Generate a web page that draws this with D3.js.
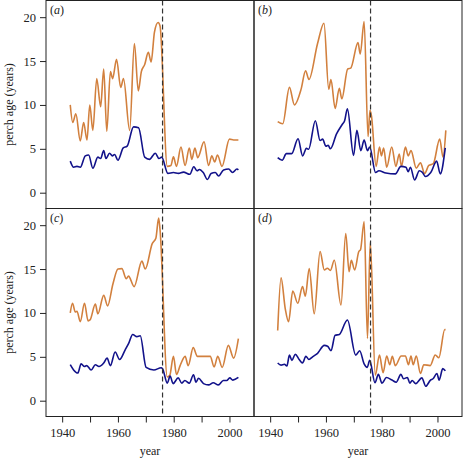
<!DOCTYPE html>
<html><head><meta charset="utf-8">
<script src="https://cdn.jsdelivr.net/npm/d3@7"></script>
<style>body{margin:0;background:#fff}svg{display:block}text{font-family:"Liberation Serif","Times New Roman",serif;fill:#222}</style>
</head><body><svg id="c" width="463" height="460"></svg>
<script>
// ---- data (years at read-off turning points, values in years of age) ----
const aOrangeYears=[1942.9,1943.8,1944.9,1946.5,1947.7,1948.9,1949.9,1951.0,1952.4,1953.8,1954.9,1956.0,1957.3,1958.1,1959.5,1961.0,1962.0,1964.2,1965.9,1967.3,1968.4,1969.6,1970.9,1971.9,1973.1,1974.4,1975.1,1977.7,1979.0,1979.9,1981.0,1982.6,1984.1,1985.6,1986.5,1987.6,1988.6,1990.9,1992.5,1993.7,1994.7,1995.7,1997.3,2000.0,2001.5,2003.2];
const aOrangeVals=[10.0,8.0,9.0,5.9,8.0,6.0,10.0,7.1,13.0,9.8,14.1,7.0,13.8,13.0,15.2,12.0,13.0,7.1,17.0,11.6,13.8,14.6,16.0,14.9,18.3,19.4,19.0,3.0,3.1,4.1,3.0,5.2,3.1,5.1,3.8,5.1,4.0,5.8,3.1,4.2,3.5,4.3,3.0,6.1,6.0,6.0];
const aBlueYears=[1942.9,1944.1,1945.3,1946.5,1948.3,1949.5,1951.0,1952.8,1953.8,1954.9,1955.7,1957.0,1958.0,1958.8,1960.0,1961.9,1963.3,1965.6,1967.4,1969.6,1971.3,1973.4,1974.7,1975.7,1977.9,1979.9,1981.7,1983.5,1985.8,1987.2,1988.4,1989.2,1990.6,1992.1,1993.4,1994.9,1996.1,1997.9,1999.7,2001.1,2002.7,2003.2];
const aBlueVals=[3.6,2.9,3.0,2.9,4.2,4.3,2.8,4.05,3.9,4.8,3.9,4.5,4.2,4.35,3.7,5.1,5.3,7.5,7.4,4.05,3.8,4.5,3.9,4.05,2.2,2.3,2.2,2.35,2.1,2.95,2.5,2.65,2.3,1.5,2.2,2.3,1.9,2.6,2.7,2.3,2.7,2.6];

const bOrangeYears=[1942.7,1944.5,1946.9,1948.7,1951.1,1952.7,1953.9,1957.0,1959.3,1961.0,1961.8,1963.3,1964.8,1965.7,1967.8,1968.9,1971.5,1972.3,1973.7,1975.1,1975.8,1976.3,1978.0,1979.2,1979.9,1980.7,1981.8,1983.6,1985.1,1986.3,1987.1,1988.5,1989.5,1990.5,1992.4,1993.9,1995.4,1996.9,1998.5,2000.8,2002.0,2003.0];
const bOrangeVals=[8.1,7.85,12.0,10.0,11.8,13.9,12.9,17.0,19.3,11.8,12.9,9.6,11.9,10.7,14.1,14.2,17.1,15.8,19.5,6.4,9.4,8.8,3.0,5.2,4.2,5.1,2.9,5.2,3.0,4.4,3.0,5.2,4.2,4.8,2.8,3.4,2.2,3.1,3.3,6.1,4.05,7.1];
const bBlueYears=[1942.7,1944.3,1945.8,1947.7,1950.0,1951.65,1953.0,1953.8,1956.2,1957.9,1958.8,1960.0,1960.8,1961.6,1963.8,1965.9,1966.7,1967.7,1969.9,1971.1,1972.5,1973.7,1974.9,1975.7,1977.8,1979.0,1981.5,1984.9,1986.9,1988.7,1989.5,1990.3,1991.8,1993.5,1994.5,1995.7,1997.6,1999.7,2001.0,2002.8];
const bBlueVals=[4.0,3.7,4.45,4.45,6.15,4.2,5.05,4.95,8.2,5.95,6.1,5.3,5.4,5.0,6.7,7.8,8.2,9.55,4.25,7.1,4.8,6.0,4.8,5.2,2.3,2.5,2.25,2.15,3.0,2.9,2.4,2.9,1.45,2.5,2.35,1.85,2.3,3.6,2.15,5.1];

const cOrangeYears=[1942.9,1943.7,1944.7,1945.3,1946.5,1948.0,1949.3,1950.0,1951.9,1952.8,1954.9,1956.3,1958.2,1960.0,1961.4,1963.0,1963.8,1965.8,1968.6,1969.8,1972.3,1973.6,1974.6,1975.1,1977.7,1978.6,1979.9,1981.0,1982.3,1984.1,1985.2,1987.0,1988.5,1993.1,1994.5,1995.8,1997.4,1999.6,2001.5,2003.2];
const cOrangeVals=[10.0,11.1,10.1,10.2,9.0,11.1,9.1,9.2,11.0,9.9,12.0,10.8,13.3,15.0,15.05,13.9,14.2,13.0,15.9,15.0,17.9,18.5,20.8,19.5,2.7,2.9,5.05,3.0,4.0,5.05,4.0,6.05,5.05,5.05,3.85,5.05,3.8,6.3,4.85,7.07];
const cBlueYears=[1942.9,1944.1,1945.6,1946.8,1948.0,1948.8,1950.4,1951.9,1953.2,1954.9,1956.1,1957.3,1959.0,1960.6,1962.6,1963.8,1965.3,1966.8,1968.0,1970.1,1972.9,1975.5,1976.0,1977.7,1978.7,1979.8,1981.6,1982.9,1984.0,1985.6,1987.1,1988.0,1988.9,1990.7,1992.5,1994.2,1996.0,1997.8,1999.0,2000.1,2001.2,2003.2];
const cBlueVals=[4.1,3.5,3.15,4.2,3.9,4.0,3.5,4.1,3.9,4.3,4.85,4.0,5.55,4.7,5.8,6.5,7.55,7.3,7.4,3.8,3.5,3.75,3.65,2.0,2.8,1.95,2.6,2.0,2.3,2.0,2.95,2.1,2.55,1.95,1.8,2.05,1.8,2.3,2.3,2.6,2.35,2.65];

const dOrangeYears=[1942.7,1943.9,1945.4,1946.6,1948.1,1949.9,1951.6,1952.6,1954.0,1955.8,1957.9,1959.4,1960.5,1961.6,1963.0,1965.4,1967.1,1968.3,1969.1,1970.3,1971.8,1972.4,1973.7,1974.9,1975.9,1977.7,1979.2,1980.5,1981.8,1982.9,1983.8,1984.9,1987.0,1988.5,1989.6,1990.5,1991.3,1992.4,1993.9,1995.1,1997.4,1999.2,2000.5,2002.6,2002.9];
const dOrangeVals=[8.0,14.0,10.5,9.0,12.5,11.1,13.0,11.9,15.05,9.9,17.0,14.9,15.1,14.85,16.0,10.9,19.05,14.7,16.0,14.9,17.0,17.2,20.4,7.1,18.1,2.9,5.2,3.2,5.1,4.1,5.05,4.0,5.1,5.1,4.1,5.1,4.1,5.1,3.1,4.1,4.0,5.2,4.9,8.1,8.1];
const dBlueYears=[1942.7,1943.9,1945.1,1946.0,1946.9,1947.8,1949.0,1950.4,1951.6,1952.8,1953.9,1955.2,1957.0,1959.4,1960.6,1961.8,1963.3,1964.8,1967.7,1970.7,1972.1,1973.7,1974.8,1975.7,1977.6,1978.8,1980.1,1981.7,1983.7,1985.2,1986.9,1987.8,1989.2,1990.1,1990.9,1992.2,1994.4,1995.8,1997.5,1998.4,1999.8,2000.6,2001.9,2002.8];
const dBlueVals=[4.3,4.05,4.15,3.95,5.2,4.6,5.3,4.7,4.3,5.05,4.7,5.0,5.4,6.3,6.2,5.7,7.45,7.55,9.2,5.2,5.7,4.2,3.8,4.6,2.05,3.0,2.0,2.65,2.35,2.1,3.0,2.5,2.65,2.0,2.3,1.95,2.6,1.65,2.35,2.5,3.1,2.35,3.65,3.4];

const panelLetters=["a","b","c","d"];
const yTicks=[0,5,10,15,20];
const xTicks=[1940,1950,1960,1970,1980,1990,2000];
const xTickLabels=["1940","","1960","","1980","","2000"];
const breakYear=1976;
const yLabel="perch age (years)";
const xLabel="year";

// ---- layout ----
const svg=d3.select("#c");
const W=208,H=208;
const colX=[46,254], rowY=[0.5,208.5];
const orange="#d2803e", blue="#12128a";
const x=d3.scaleLinear().domain([1934.2,2008.8]).range([0,W]);
const y=d3.scaleLinear().domain([-1.8,21.9]).range([H,0]);
const line=d3.line().x(d=>x(d[0])).y(d=>y(d[1])).curve(d3.curveMonotoneX);
const zip=(a,b)=>a.map((v,i)=>[v,b[i]]);

const series=[
 [zip(aOrangeYears,aOrangeVals),zip(aBlueYears,aBlueVals)],
 [zip(bOrangeYears,bOrangeVals),zip(bBlueYears,bBlueVals)],
 [zip(cOrangeYears,cOrangeVals),zip(cBlueYears,cBlueVals)],
 [zip(dOrangeYears,dOrangeVals),zip(dBlueYears,dBlueVals)]
];

series.forEach((s,i)=>{
  const col=i%2,row=Math.floor(i/2);
  const g=svg.append("g").attr("transform",`translate(${colX[col]},${rowY[row]})`);
  g.append("clipPath").attr("id","clip"+i).append("rect").attr("width",W).attr("height",H);
  const inner=g.append("g").attr("clip-path",`url(#clip${i})`);
  inner.append("path").datum(s[0]).attr("d",line).attr("fill","none").attr("stroke",orange).attr("stroke-width",1.6).attr("stroke-linejoin","round");
  inner.append("path").datum(s[1]).attr("d",line).attr("fill","none").attr("stroke",blue).attr("stroke-width",1.6).attr("stroke-linejoin","round");
  inner.append("line").attr("x1",x(breakYear)).attr("x2",x(breakYear)).attr("y1",0).attr("y2",H)
    .attr("stroke","#333").attr("stroke-width",1.2).attr("stroke-dasharray","5,3");
  g.append("rect").attr("width",W).attr("height",H).attr("fill","none").attr("stroke","#222").attr("stroke-width",1);
  const lab=g.append("text").attr("x",4).attr("y",13).attr("font-size",12);
  lab.append("tspan").text("(");
  lab.append("tspan").attr("font-style","italic").text(panelLetters[i]);
  lab.append("tspan").text(")");
  if(col===0){
    const ax=g.append("g").call(d3.axisLeft(y).tickValues(yTicks).tickSize(6).tickPadding(4));
    ax.select(".domain").remove();
    ax.selectAll("line").attr("stroke","#222");
    ax.selectAll("text").attr("font-size",12.5).attr("font-family","Liberation Serif").attr("fill","#222");
    svg.append("text").attr("transform",`translate(13,${rowY[row]+H/2}) rotate(-90)`)
      .attr("text-anchor","middle").attr("font-size",12).text(yLabel);
  }
  if(row===1){
    const ax=g.append("g").attr("transform",`translate(0,${H})`)
      .call(d3.axisBottom(x).tickValues(xTicks).tickFormat((d,k)=>xTickLabels[k]).tickSize(6).tickPadding(6));
    ax.select(".domain").remove();
    ax.selectAll("line").attr("stroke","#222");
    ax.selectAll("text").attr("font-size",12.5).attr("font-family","Liberation Serif").attr("fill","#222");
    g.append("text").attr("x",W/2).attr("y",H+38).attr("text-anchor","middle").attr("font-size",12).text(xLabel);
  }
});
</script></body></html>
